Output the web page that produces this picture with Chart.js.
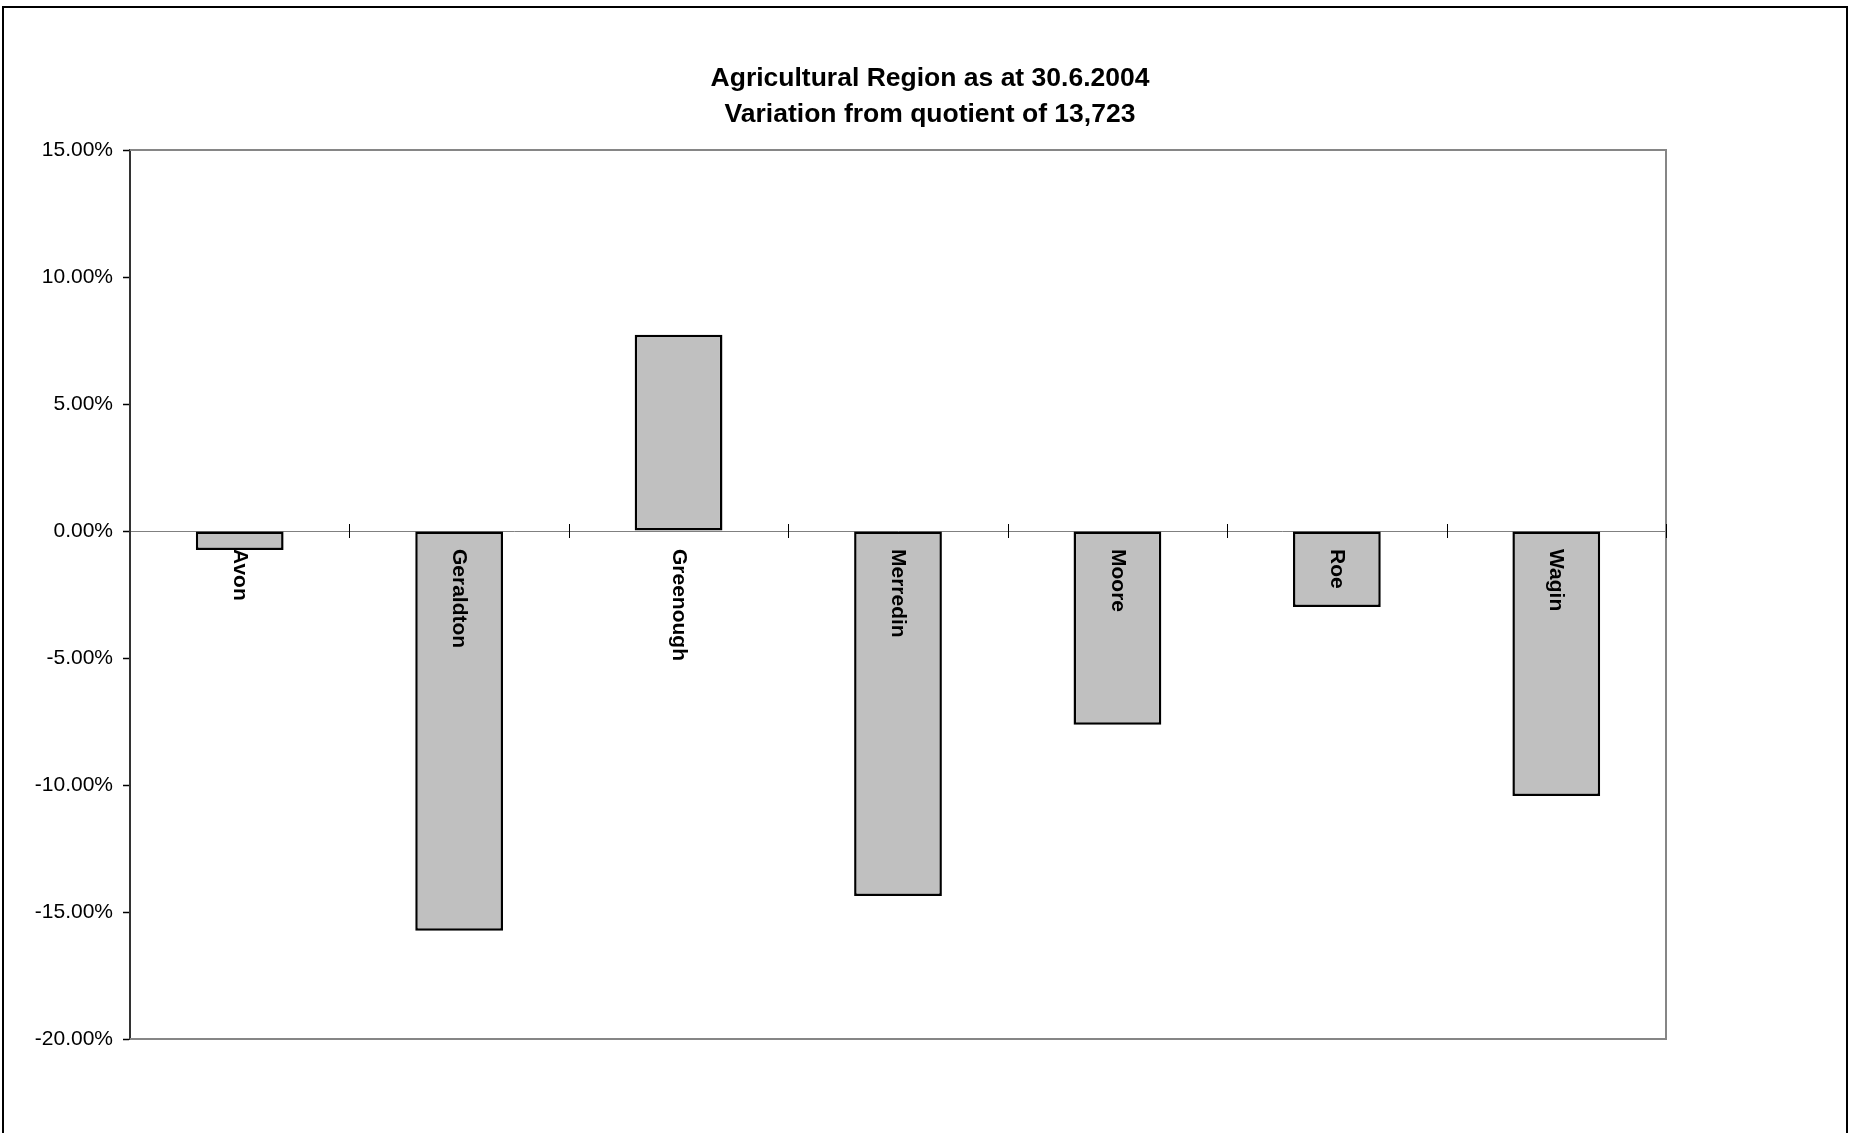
<!DOCTYPE html>
<html>
<head>
<meta charset="utf-8">
<title>Agricultural Region as at 30.6.2004</title>
<script src="https://cdn.jsdelivr.net/npm/chart.js@4.4.1/dist/chart.umd.min.js"></script>
<style>
	html, body { margin: 0; padding: 0; background: #fff; }
	#hlm-wrap { position: relative; width: 1850px; height: 1133px; }
</style>
</head>
<body>
<div id="hlm-wrap"><canvas id="agri-chart"></canvas></div>
<script>
	// data
	var regions = [ 'Avon', 'Geraldton', 'Greenough', 'Merredin', 'Moore', 'Roe', 'Wagin' ];
	var variation = [ -0.75, -15.74, 7.73, -14.37, -7.63, -2.99, -10.43 ];
	var y_ticks = [ 15, 10, 5, 0, -5, -10, -15, -20 ];
	var title_lines = [ 'Agricultural Region as at 30.6.2004', 'Variation from quotient of 13,723' ];

(function() {
	'use strict';

	var font_family = '"Liberation Sans", Arial, sans-serif';

	// outer frame, title and plot box
	var frame_plugin = {
		id: 'frame_plugin',
		beforeDatasetsDraw: function( chart ) {
			var ctx = chart.ctx;
			var a = chart.chartArea;

			ctx.save();

			ctx.strokeStyle = '#000';
			ctx.lineWidth = 2;
			ctx.strokeRect( 3, 7, 1844, 1140 );

			ctx.fillStyle = '#000';
			ctx.font = 'bold 26.5px ' + font_family;
			ctx.textAlign = 'center';
			ctx.textBaseline = 'middle';
			ctx.fillText( title_lines[0], 930, 79 );
			ctx.fillText( title_lines[1], 930, 115 );

			ctx.strokeStyle = '#868686';
			ctx.lineWidth = 2;
			ctx.beginPath();
			ctx.moveTo( a.left, a.top );
			ctx.lineTo( a.right, a.top );
			ctx.lineTo( a.right, a.bottom );
			ctx.lineTo( a.left, a.bottom );
			ctx.stroke();

			ctx.restore();
		},
		afterDatasetsDraw: function( chart ) {
			var ctx = chart.ctx;
			var x = chart.scales.x;
			var y0 = chart.scales.y.getPixelForValue( 0 );

			ctx.save();

			// category tick marks on the zero line
			ctx.strokeStyle = '#000';
			ctx.lineWidth = 1;
			ctx.beginPath();
			for ( var i = 1; i <= regions.length; i++ ) {
				var px = ( i < regions.length )
					? ( x.getPixelForValue( i - 1 ) + x.getPixelForValue( i ) ) / 2
					: chart.chartArea.right;
				px = Math.round( px ) + 0.5;
				ctx.moveTo( px, y0 - 7 );
				ctx.lineTo( px, y0 + 7 );
			}
			ctx.stroke();

			// category names, turned to read downwards
			ctx.fillStyle = '#000';
			ctx.font = 'bold 21px ' + font_family;
			ctx.textAlign = 'left';
			ctx.textBaseline = 'middle';
			regions.forEach( function( name, idx ) {
				ctx.save();
				ctx.translate( x.getPixelForValue( idx ), y0 + 18 );
				ctx.rotate( Math.PI / 2 );
				ctx.fillText( name, 0, 0 );
				ctx.restore();
			} );

			ctx.restore();
		}
	};

	var agri_ctx = document.getElementById( 'agri-chart' );

	var agri_chart = new Chart( agri_ctx, {
		type: 'bar',
		data: {
			labels: regions,
			datasets: [ {
				data: variation,
				backgroundColor: '#c0c0c0',
				borderColor: '#000',
				borderWidth: 2.5,
				borderSkipped: false,
				barPercentage: 0.4,
				categoryPercentage: 1
			} ]
		},
		options: {
			responsive: true,
			maintainAspectRatio: false,
			animation: false,
			layout: {
				padding: { top: 150, right: 184, bottom: 94, left: 0 }
			},
			plugins: {
				legend: { display: false },
				tooltip: { enabled: false },
				title: { display: false }
			},
			scales: {
				x: {
					display: false,
					offset: true
				},
				y: {
					min: y_ticks[ y_ticks.length - 1 ],
					max: y_ticks[0],
					afterFit: function( scale ) {
						scale.width = 130;
					},
					afterBuildTicks: function( scale ) {
						scale.ticks = y_ticks.map( function( v ) { return { value: v }; } );
					},
					border: { display: true, color: '#333', width: 2 },
					grid: {
						drawOnChartArea: true,
						drawTicks: true,
						tickLength: 7,
						tickColor: '#000',
						tickWidth: 1.5,
						lineWidth: 1,
						color: function( c ) {
							return ( c.tick && c.tick.value === 0 ) ? '#808080' : 'rgba(0,0,0,0)';
						}
					},
					ticks: {
						padding: 10,
						color: '#000',
						font: { family: font_family, size: 21 },
						callback: function( v ) {
							return Number( v ).toFixed( 2 ) + '%';
						}
					}
				}
			}
		},
		plugins: [ frame_plugin ]
	} );

})();
</script>
</body>
</html>
